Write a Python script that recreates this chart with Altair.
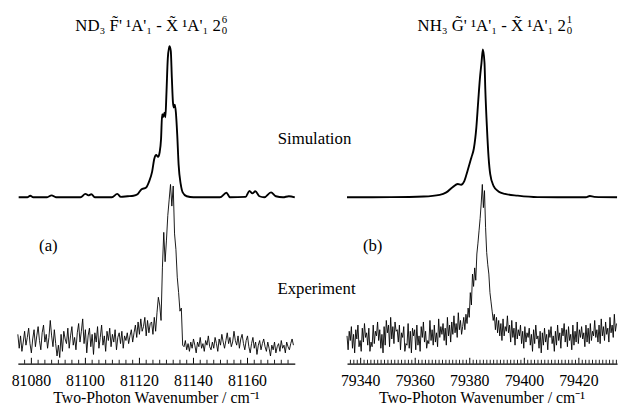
import altair as alt
import pandas as pd

FONT = "Liberation Serif"

# ---------------- ND3 (panel a) ----------------
nd3_sim_wn = [81075.3, 81078.5, 81079.6, 81080.7, 81085.8, 81087.5, 81089.1, 81098.2, 81100.0, 81101.1,
              81102.2, 81103.6, 81109.8, 81111.8, 81113.1, 81115.6, 81117.8, 81119.3, 81120.7, 81122.5,
              81123.6, 81124.7, 81125.5, 81126.2, 81126.9, 81127.5, 81128.0, 81128.4, 81128.7, 81129.3,
              81129.6, 81130.0, 81130.5, 81131.1, 81131.6, 81132.0, 81132.4, 81132.7, 81133.1, 81133.5,
              81134.0, 81134.5, 81135.3, 81136.0, 81137.5, 81140.0, 81149.8, 81152.2, 81153.5, 81159.3,
              81160.7, 81161.8, 81162.9, 81164.4, 81166.2, 81168.7, 81170.5, 81173.1, 81175.3, 81177.5]
nd3_sim_int = [0, 0, 1, 0, 0, 1.3, 0, 0, 2.3, 1.3,
               2, 0, 0, 2.3, 0.3, 0.7, 1, 2, 5.2, 6.5,
               10.5, 17, 25.5, 28, 26.8, 30, 38.6, 55, 53, 56,
               53, 69, 92, 100, 97, 79, 63, 59.5, 61.4, 56,
               41, 21.6, 8.5, 3.3, 0.7, 0, 0, 3, 0, 0.3,
               4.2, 2.6, 4, 0.7, 0, 3.3, 0.7, 0, 0.7, 0]

nd3_exp_start = 81075.0
nd3_exp_step = 0.5
nd3_exp_int = [
    3, -6, 2, -8, -2, 5, -4, 1, 7, -3, -9, 0, 6, -5, 2, 8, -1, -7, 4, 9,
    -2, 3, -6, 1, 12, 2, -5, 6, -3, -11, -4, -12, 3, -8, 5, 0, -3, 7, -6, 2,
    8, -4, 1, -7, 4, 10, -2, 5, 13, -3, 6, -9, 2, 7, -5, 3, -10, 4, -2, 8,
    -6, 1, 9, -4, 2, -8, 5, -1, 7, -5, 3, -2, 6, -7, 1, 4, -3, 5, -6, 2,
    -1, 4, -3, 2, 6, -2, 4, 9, 1, 11, 3, 13, 5, 8, 14, 2, 12, 4, 10,
    11, 3, 14, 5, 17, 27, 22, 12, 46, 69, 50, 64, 80, 90, 100, 86, 99, 68, 58, 40,
    30, 18, 20, -4,
    -5, -1, -7, -3, -8, -2, -6, 0, -4, -9, -2, -5, 1, -6, -3, -8, -1, -4, 2, -5,
    -7, -2, -6, 1, -3, -8, 0, -4, 3, -2, -6, -1, 4, -3, 1, -5, -2, 5, -1, -4,
    2, -6, 0, 3, -3, -7, -1, 2, -5, -9, -3, 1, -6, -2, -10, -4, -1, -7, -3, 0,
    -5, -8, -2, -6, -11, -4, -7, -2, -9, -5, -3, -8, -1, -6, -4, -9, -2, -5, -7, -3, 0, -4,
]
nd3_major = [81080, 81100, 81120, 81140, 81160]
nd3_domain = [81075, 81177.5]

# ---------------- NH3 (panel b) ----------------
nh3_sim_wn = [79335.0, 79351.2, 79363.1, 79369.0, 79371.4, 79373.8, 79375.6, 79376.8, 79378.0, 79379.2,
              79380.6, 79381.5, 79382.4, 79383.1, 79383.7, 79384.3, 79384.8, 79385.4, 79385.7, 79386.3,
              79386.9, 79387.5, 79388.7, 79390.5, 79392.9, 79397.6, 79404.8, 79422.6, 79424.0, 79425.6,
              79434.0]
nh3_sim_int = [0, 0.1, 0.5, 1.6, 3.3, 7, 9, 8.5, 11, 18,
               27, 33, 47, 65, 80, 91, 100, 91, 73, 47,
               27, 15.6, 7.8, 4, 2.3, 1.1, 0.1, 0, 0.9, 0.3,
               0]

nh3_exp_start = 79335.0
nh3_exp_step = 0.4
nh3_exp_int = [
    2, -7, 5, -1, 8, -6, 3, -9, 6, 0, 9, -5, -1, -8, 7, -2, 10, 1, 4, -4,
    7, -8, -2, -5, 9, -3, 5, 2, 11, -1, 6, -6, 3, -9, 8, -4, 12, 4, 9, -5,
    14, 0, 8, -3, 11, 5, 6, -2, 9, -7, 4, 1, 8, -8, -3, -4, 10, -6, 5, -9,
    7, 2, 6, -7, 9, -4, 2, -8, 8, 1, 11, -2, 5, -6, -1, -3, 12, -1, 6, -4,
    9, -2, 4, -5, 13, 1, 8, 3, 10, -1, 7, -4, 14, 2, 9, -2, 11, 3, 15, 4,
    10, 1, 17, 6, 12, 3,
    8, 14, 6, 16, 10, 20, 14, 30, 22, 42, 34, 46, 38, 55, 62, 70, 78, 88, 100, 85,
    96, 72, 56, 48, 42, 30, 24, 18, 12, 16, 6, 14, 4, 12, 2,
    10, -1, 13, 2, 8, 5, 15, 4, 9, -2, 12, 1, 7, -4, 11, 0, 6, 2, 9, -3,
    5, -6, 8, -2, 4, 1, 7, -4, 3, -8, 6, -3, 9, 0, 2, -6, 5, -9, 4, -4,
    7, -2, 3, -7, 6, 1, 8, -3, 2, -8, 5, -4, 9, -1, 4, -6, 7, 2, 10, -2,
    6, -5, 8, -1, 3, -7, 9, -4, 5, -2, 11, -3, 6, 1, 8, 0, 4, -5, 9, -2,
    7, -3, 10, -1, 5, 2, 12, 1, 6, -2, 9, -3, 13, 2, 8, -1, 11, 3, 7, -2,
    14, 4, 9, 1, 16, 5, 10,
]
nh3_major = [79340, 79360, 79380, 79400, 79420]
nh3_domain = [79335, 79434]

AXIS_TITLE = "Two-Photon Wavenumber / cm\u207b\u00b9"
H = 326
SIM_OFFSET = 51.8
EXP_OFFSET = 7.7


def panel(sim_wn, sim_int, exp_start, exp_step, exp_int, domain, major, minor_step,
          width, sim_scale, exp_scale, title_main, sup, sub, title_x, tag, tag_x, extra_text):
    sim_df = pd.DataFrame({"wn": sim_wn, "I": sim_int})
    exp_df = pd.DataFrame({"I": exp_int})
    exp_df["wn"] = exp_start + exp_step * exp_df.index
    minor = []
    k = 1
    while domain[0] + minor_step * k < domain[1]:
        v = round(domain[0] - (domain[0] % minor_step) + minor_step * k, 3)
        if domain[0] < v < domain[1] and all(abs(v - m) > 1e-6 for m in major):
            minor.append(v)
        k += 1
    minor_df = pd.DataFrame({"wn": minor})
    major_df = pd.DataFrame({"wn": major, "lab": [str(m) for m in major]})

    xscale = alt.Scale(domain=domain, nice=False, zero=False)
    yscale = alt.Scale(domain=[0, 100], nice=False, zero=False)
    xaxis = alt.Axis(values=major, labels=False, ticks=False, title=None, grid=False,
                     domain=True, domainColor="black", domainWidth=1.2)
    X = alt.X("wn:Q", scale=xscale, axis=xaxis)

    sim = alt.Chart(sim_df).transform_calculate(
        y=f"{SIM_OFFSET} + datum.I * {sim_scale}"
    ).mark_line(color="black", strokeWidth=1.9, interpolate="monotone").encode(
        x=X,
        y=alt.Y("y:Q", scale=yscale, axis=None),
    )
    exp = alt.Chart(exp_df).transform_calculate(
        y=f"{EXP_OFFSET} + datum.I * {exp_scale}"
    ).mark_line(color="black", strokeWidth=0.9).encode(
        x=X,
        y=alt.Y("y:Q", scale=yscale, axis=None),
    )
    tmin = alt.Chart(minor_df).mark_rule(color="black", strokeWidth=0.9).encode(
        x=X, y=alt.value(H), y2=alt.value(H - 4))
    tmaj = alt.Chart(major_df).mark_rule(color="black", strokeWidth=1).encode(
        x=X, y=alt.value(H), y2=alt.value(H - 6))
    tlab = alt.Chart(major_df).mark_text(
        font=FONT, fontSize=16, color="black", align="center", baseline="middle"
    ).encode(x=X, y=alt.value(H + 18), text="lab:N")

    texts = []

    def txt(s, x, y, size, align="center"):
        return alt.Chart(pd.DataFrame({"t": [s]})).mark_text(
            font=FONT, fontSize=size, color="black", align=align, baseline="middle"
        ).encode(x=alt.value(x), y=alt.value(y), text="t:N")

    texts.append(txt(AXIS_TITLE, width / 2, H + 35, 16))
    texts.append(txt(title_main, title_x, -17, 17, "right"))
    texts.append(txt(sup, title_x + 1, -23, 11, "left"))
    texts.append(txt(sub, title_x + 1, -12, 11, "left"))
    texts.append(txt(tag, tag_x, 207, 17))
    for s, x, y in extra_text:
        texts.append(txt(s, x, y, 17))

    return alt.layer(sim, exp, tmin, tmaj, tlab, *texts).properties(width=width, height=H)


left = panel(nd3_sim_wn, nd3_sim_int, nd3_exp_start, nd3_exp_step, nd3_exp_int,
             nd3_domain, nd3_major, 2.5, 281, 0.47, 0.481,
             "ND\u2083 F\u0303' \u00b9A'\u2081 - X\u0303 \u00b9A'\u2081 2", "6", "0", 206,
             "(a)", 31, [("Simulation", 301, 98), ("Experiment", 303, 250)])
right = panel(nh3_sim_wn, nh3_sim_int, nh3_exp_start, nh3_exp_step, nh3_exp_int,
              nh3_domain, nh3_major, 1.25, 274, 0.46, 0.481,
              "NH\u2083 G\u0303' \u00b9A'\u2081 - X\u0303 \u00b9A'\u2081 2", "1", "0", 222,
              "(b)", 26, [])

chart = alt.hconcat(left, right, spacing=53, bounds="flush").properties(
    padding={"left": 3, "top": 3, "right": 0, "bottom": 0}
).configure_view(strokeWidth=0)

chart.save("out.html", embed_options={"renderer": "svg", "actions": False})
